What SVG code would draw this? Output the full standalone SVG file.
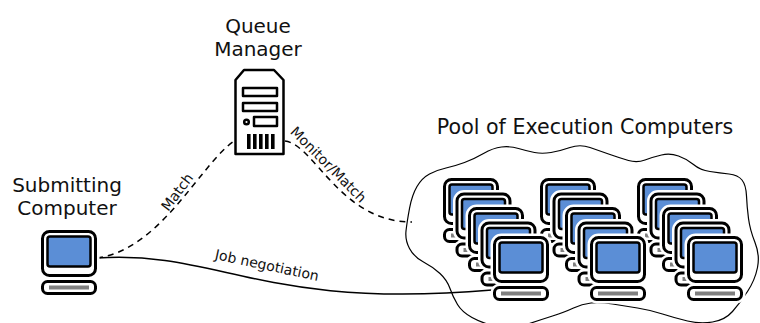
<svg xmlns="http://www.w3.org/2000/svg" xmlns:xlink="http://www.w3.org/1999/xlink" width="760" height="323" viewBox="0 0 760 323">
  <style>
    .title { font-family: "DejaVu Sans", "Liberation Sans", sans-serif; font-size: 20px; fill: #111; text-anchor: middle; }
    .lbl { font-family: "DejaVu Sans", "Liberation Sans", sans-serif; font-size: 14px; fill: #111; text-anchor: middle; }
    .dash { fill: none; stroke: #000; stroke-width: 1.5; stroke-dasharray: 6 5; }
    .solid { fill: none; stroke: #000; stroke-width: 1.5; }
    .cloud { fill: none; stroke: #000; stroke-width: 1.2; }
    .halo { fill: #fff; stroke: #fff; stroke-width: 8; }
    .case { fill: #fff; stroke: #000; stroke-width: 3; }
    .screen { fill: #5b8ed6; stroke: #000; stroke-width: 2.5; }
    .bar { fill: #808080; }
    .srv { fill: #fff; stroke: #000; stroke-width: 2.5; stroke-linejoin: round; }
  </style>
  <defs>
    <!-- desktop computer icon, 56 x 65 -->
    <g id="pc">
      <rect class="halo" x="1.5" y="1.5" width="53" height="44" rx="7"/>
      <rect class="halo" x="1.5" y="51.5" width="53" height="12" rx="5"/>
      <rect class="case" x="1.5" y="1.5" width="53" height="44" rx="7"/>
      <rect class="screen" x="6.5" y="6.5" width="43" height="30" rx="2.5"/>
      <rect class="case" x="1.5" y="51.5" width="53" height="12" rx="5"/>
      <rect class="bar" x="8" y="55.5" width="40" height="4"/>
    </g>
  </defs>

  <!-- connectors -->
  <g id="connectors">
    <path id="c-match" class="dash" d="M97,258 C160,250 200,165 234,141"/>
    <path id="c-monitor" class="dash" d="M285,141 C315,145 340,222 412,222"/>
    <path id="c-job" class="solid" d="M97,258 C220,250 260,310 492,290"/>
    <text class="lbl" transform="translate(181,195) rotate(-53)">Match</text>
    <text class="lbl" transform="translate(325,168) rotate(45)">Monitor/Match</text>
    <text class="lbl" transform="translate(266,270) rotate(12)">Job negotiation</text>
  </g>

  <!-- queue manager (server tower) -->
  <g id="queue-manager">
    <text class="title" x="258" y="33">Queue</text>
    <text class="title" x="258" y="55.5">Manager</text>
    <path class="srv" d="M235.5,80 L244,70 L274,70 L283.5,80 L283.5,154 L235.5,154 Z" stroke-width="3"/>
    <rect class="srv" x="243" y="88" width="34" height="8"/>
    <rect class="srv" x="243" y="103" width="34" height="8"/>
    <circle class="srv" cx="246.5" cy="122" r="2.3" stroke-width="2"/>
    <rect class="srv" x="254" y="117" width="23" height="9"/>
    <g fill="#000">
      <rect x="247" y="134" width="3.6" height="15"/>
      <rect x="253" y="134" width="3.6" height="15"/>
      <rect x="259" y="134" width="3.6" height="15"/>
      <rect x="265" y="134" width="3.6" height="15"/>
      <rect x="271" y="134" width="3.6" height="15"/>
    </g>
  </g>

  <!-- submitting computer -->
  <g id="submitting-computer">
    <text class="title" x="67" y="191.5">Submitting</text>
    <text class="title" x="67" y="215">Computer</text>
    <use xlink:href="#pc" x="41" y="230"/>
  </g>

  <!-- pool of execution computers -->
  <g id="pool">
    <text class="title" x="585" y="134" style="font-size:20.6px">Pool of Execution Computers</text>
    <path class="cloud" d="M406,231 Q407,222 409.5,208.5 Q412,195 417,186.5 Q422,178 429.5,174 Q437,170 446,168 Q455,166 464.5,162.5 Q474,159 483.5,153.5 Q493,148 501.5,147 Q510,146 518.5,148.5 Q527,151 534.5,152.5 Q542,154 551,152.5 Q560,151 570,147.5 Q580,144 590,147.5 Q600,151 610,154.5 Q620,158 628.5,160.5 Q637,163 645,160 Q653,157 661.5,155 Q670,153 678.5,156 Q687,159 693.5,164.5 Q700,170 710,171.5 Q720,173 729,174 Q738,175 742,180 Q746,185 746.5,196 Q747,207 748.5,218.5 Q750,230 755,242.5 Q760,255 757.5,267.5 Q755,280 747.5,291.5 Q740,303 732.5,311.5 Q725,320 712.5,322 Q700,324 687.5,321 Q675,318 662.5,314 Q650,310 637.5,308 Q625,306 612.5,304 Q600,302 591,303 Q582,304 573.5,308 Q565,312 552.5,316 Q540,320 525,325 Q510,330 496,326.5 Q482,323 472,317.5 Q462,312 457.5,304.5 Q453,297 450,288.5 Q447,280 440,273.5 Q433,267 423.5,262 Q414,257 409.5,248.5 Q405,240 406,231 Z"/>
    <!-- stacked rows, back to front -->
    <use xlink:href="#pc" x="443" y="178"/>
    <use xlink:href="#pc" x="540" y="178"/>
    <use xlink:href="#pc" x="637" y="178"/>
    <use xlink:href="#pc" x="455.5" y="192.5"/>
    <use xlink:href="#pc" x="552.5" y="192.5"/>
    <use xlink:href="#pc" x="649.5" y="192.5"/>
    <use xlink:href="#pc" x="468" y="207"/>
    <use xlink:href="#pc" x="565" y="207"/>
    <use xlink:href="#pc" x="662" y="207"/>
    <use xlink:href="#pc" x="480.5" y="221.5"/>
    <use xlink:href="#pc" x="577.5" y="221.5"/>
    <use xlink:href="#pc" x="674.5" y="221.5"/>
    <use xlink:href="#pc" x="493" y="236"/>
    <use xlink:href="#pc" x="590" y="236"/>
    <use xlink:href="#pc" x="687" y="236"/>
  </g>
</svg>
